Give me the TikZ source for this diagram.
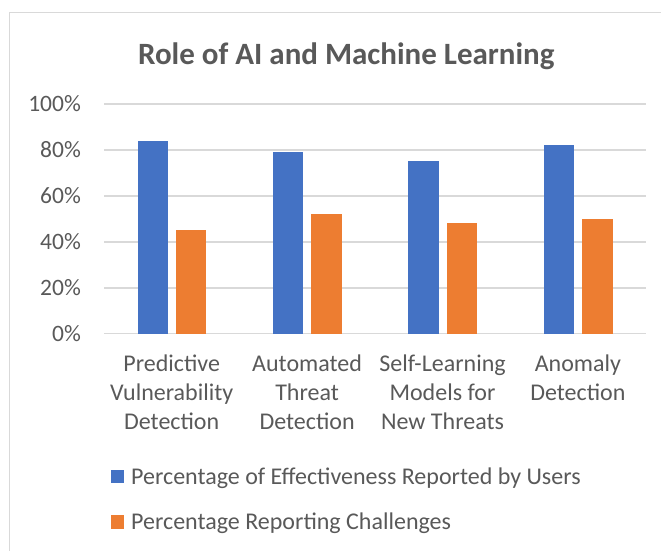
\documentclass[tikz,border=0pt]{standalone}
\usepackage{fontspec}
\setmainfont{Carlito}
\definecolor{barblue}{HTML}{4472C4}
\definecolor{barorange}{HTML}{ED7D31}
\definecolor{txtgray}{HTML}{595959}
\definecolor{gridgray}{HTML}{D9D9D9}
\newcommand{\catlines}[1]{\begin{tabular}[t]{@{}c@{}}#1\end{tabular}}
\begin{document}
\begin{tikzpicture}[x=1pt,y=-1pt,
  gridline/.style={draw=gridgray, line width=1.5pt},
  ylab/.style={anchor=east, text=txtgray, inner sep=0pt, font=\fontsize{23.5}{29}\selectfont},
  catlab/.style={anchor=base, text=txtgray, inner sep=0pt, font=\fontsize{24}{29}\selectfont},
  legtxt/.style={anchor=base west, text=txtgray, inner sep=0pt, font=\fontsize{24}{29}\selectfont},
  bluebar/.style={fill=barblue},
  orangebar/.style={fill=barorange}]
\useasboundingbox (0,0) rectangle (661,550);
\begin{scope}
\clip (0,0) rectangle (661,550);
\draw[draw=gridgray, line width=1.2pt] (9.5,580) -- (9.5,12.5) -- (700,12.5);
\end{scope}
% title
\node[anchor=base, text=txtgray, font=\bfseries\fontsize{31}{38}\selectfont, inner sep=0pt] (title) at (346.3,64.5) {Role of AI and Machine Learning};
% grid and axis labels
\foreach \v/\n in {0/0,20/20,40/40,60/60,80/80,100/100}{
  \draw[gridline] (104,{333.7-\v*2.297}) -- (645.7,{333.7-\v*2.297});
  \node[ylab] (y\n) at (81,{333.7-\v*2.297}) {\v\%};
}
% bars
\foreach \c/\b/\o in {0/84/45,1/79/52,2/75/48,3/82/50}{
  \pgfmathsetmacro{\cx}{171.7+\c*135.4}
  \fill[bluebar] ({\cx-34.2},333.7) rectangle ({\cx-3.9},{333.7-\b*2.297});
  \fill[orangebar] ({\cx+4.3},333.7) rectangle ({\cx+34.6},{333.7-\o*2.297});
}
% category labels
\node[catlab] (c1) at (171.7,371.7) {\catlines{Predictive\\Vulnerability\\Detection}};
\node[catlab] (c2) at (307.1,371.7) {\catlines{Automated\\Threat\\Detection}};
\node[catlab] (c3) at (442.5,371.7) {\catlines{Self-Learning\\Models for\\New Threats}};
\node[catlab] (c4) at (577.9,371.7) {\catlines{Anomaly\\Detection}};
% legend
\fill[barblue] (111,470) rectangle (124,483.3);
\node[legtxt] (l1) at (131,484) {Percentage of Effectiveness Reported by Users};
\fill[barorange] (111,515.3) rectangle (124,528.7);
\node[legtxt] (l2) at (131,529) {Percentage Reporting Challenges};
\end{tikzpicture}
\end{document}
